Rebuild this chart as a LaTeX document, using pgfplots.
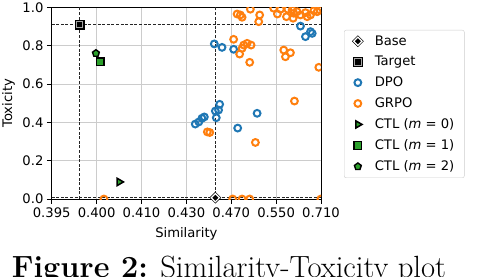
\documentclass[border=0pt]{standalone}
\usepackage{fontspec}
\setsansfont{DejaVu Sans}
\usepackage{pgfplots}
\pgfplotsset{compat=1.18}
\usepackage{pgfplotstable}
\definecolor{tabblue}{HTML}{1F77B4}
\definecolor{taborange}{HTML}{FF7F0E}
\definecolor{tabgreen}{HTML}{2CA02C}
\newcommand\chartfont{\sffamily\fontsize{13.2}{15.8}\selectfont}

\pgfplotsset{
  baselegend/.style={legend image code/.code={%
    \draw[mark repeat=2,mark phase=2, only marks, mark=square*, mark size=4.0bp, mark options={rotate=45,fill=black,draw=black,line width=0.2bp}] plot coordinates {(0bp,0bp)(14bp,0bp)(28bp,0bp)};
    \draw[mark repeat=2,mark phase=2,##1] plot coordinates {(0bp,0bp)(14bp,0bp)(28bp,0bp)};}},
  targetlegend/.style={legend image code/.code={%
    \draw[mark repeat=2,mark phase=2, only marks, mark=square*, mark size=4.6bp, mark options={fill=black,draw=black,line width=0.2bp}] plot coordinates {(0bp,0bp)(14bp,0bp)(28bp,0bp)};
    \draw[mark repeat=2,mark phase=2,##1] plot coordinates {(0bp,0bp)(14bp,0bp)(28bp,0bp)};}},
  plainlegend/.style={legend image code/.code={%
    \draw[mark repeat=2,mark phase=2,##1] plot coordinates {(0bp,0bp)(14bp,0bp)(28bp,0bp)};}},
}

\pgfplotstableread{
s t
0.4516 0.809
0.4594 0.791
0.4730 0.781
0.6230 0.902
0.6621 0.873
0.6693 0.864
0.6417 0.847
0.4359 0.391
0.4385 0.402
0.4409 0.421
0.4428 0.428
0.4526 0.459
0.4535 0.424
0.4569 0.494
0.4558 0.464
0.4784 0.370
0.5093 0.447
}\dpo

\pgfplotstableread{
s t
0.4776 0.965
0.4821 0.960
0.4846 0.948
0.4975 0.990
0.5141 0.960
0.5123 0.925
0.5441 0.995
0.5611 0.990
0.5815 0.990
0.6001 0.969
0.6230 0.960
0.6485 0.951
0.6762 0.982
0.6917 0.977
0.5777 0.951
0.5981 0.943
0.7041 0.986
0.5949 0.986
0.6114 0.977
0.6417 0.972
0.5532 0.965
0.6621 0.960
0.4730 0.833
0.4811 0.756
0.4870 0.803
0.4922 0.812
0.4987 0.803
0.4846 0.786
0.4964 0.713
0.5700 0.777
0.5896 0.763
0.5748 0.742
0.6993 0.687
0.6023 0.511
0.4453 0.350
0.4474 0.347
0.5062 0.295
0.4012 0.000
0.4718 0.000
0.4846 0.000
0.4964 0.000
0.7095 0.000
}\grpo

\pgfplotstableread{
s t
0.4526 0.007
}\base
\pgfplotstableread{
s t
0.3977 0.911
}\target
\pgfplotstableread{
s t
0.4042 0.089
}\ctlzero
\pgfplotstableread{
s t
0.4006 0.716
}\ctlone
\pgfplotstableread{
s t
0.3999 0.760
}\ctltwo

\begin{document}
\begin{tikzpicture}[x=1bp,y=1bp]
\path[use as bounding box] (0,0) rectangle (478,276);
\begin{axis}[
  at={(51.7bp,77bp)}, anchor=south west,
  scale only axis, width=269.3bp, height=191.7bp,
  xmode=log, log basis x=2,
  xmin=0.005, xmax=0.32, ymin=0, ymax=1,
  xtick={0.005,0.01,0.02,0.04,0.08,0.16,0.32},
  xticklabels={0.395,0.400,0.410,0.430,0.470,0.550,0.710},
  ytick={0,0.2,0.4,0.6,0.8,1},
  yticklabels={0.0,0.2,0.4,0.6,0.8,1.0},
  xminorticks=false, yminorticks=false,
  tick align=outside, xtick pos=bottom, ytick pos=left,
  major tick length=4.8bp,
  every tick/.style={black, line width=0.9bp},
  axis line style={line width=1.0bp},
  grid=major, major grid style={gray!40, line width=0.8bp},
  tick label style={font=\chartfont},
  /pgf/number format/assume math mode=true,
  label style={font=\chartfont},
  xlabel={Similarity}, ylabel={Toxicity},
  xlabel style={at={(axis description cs:0.5,-0.2014)}, anchor=base},
  ylabel style={at={(axis description cs:-0.1474,0.5)}, anchor=base},
  clip marker paths=true,
  legend style={at={(1.0854,0.8816)}, anchor=north west, draw=black!20,
    rounded corners=2bp, fill=white, font=\chartfont,
    inner xsep=8bp, inner ysep=3.5bp, row sep=5.6bp,
    /tikz/every odd column/.append style={column sep=9.3bp}},
  legend cell align=left,
  plainlegend,
]
% reference lines
\addplot[forget plot, black!85, line width=0.9bp, dash pattern=on 3bp off 1.6bp] table[row sep=\\, x expr=\thisrow{s}-0.39, y=t] {s t\\ 0.3977 0\\ 0.3977 1\\};
\addplot[forget plot, black!85, line width=0.9bp, dash pattern=on 3bp off 1.6bp] table[row sep=\\, x expr=\thisrow{s}-0.39, y=t] {s t\\ 0.395 0.911\\ 0.71 0.911\\};
\addplot[forget plot, black!85, line width=0.9bp, dash pattern=on 3bp off 1.6bp] table[row sep=\\, x expr=\thisrow{s}-0.39, y=t] {s t\\ 0.4526 0\\ 0.4526 1\\};
\addplot[forget plot, black!85, line width=0.9bp, dash pattern=on 3bp off 1.6bp] table[row sep=\\, x expr=\thisrow{s}-0.39, y=t] {s t\\ 0.395 0.007\\ 0.71 0.007\\};

% Base legend entry (marker drawn in overlay axis without clipping)
\addlegendimage{only marks, mark=square*, mark size=2.9bp, mark options={rotate=45, fill=black, draw=white, line width=1.2bp}, baselegend}
\addlegendentry{Base}

% Target
\addplot[forget plot, only marks, mark=square*, mark size=4.6bp, mark options={fill=black, draw=black, line width=0.2bp}] table[x expr=\thisrow{s}-0.39, y=t] {\target};
\addplot[only marks, mark=square*, mark size=3.3bp, mark options={fill=black, draw=black!35, line width=1.1bp}, targetlegend]
  table[x expr=\thisrow{s}-0.39, y=t] {\target};
\addlegendentry{Target}

\addplot[only marks, draw=tabblue, mark=o, mark size=3.4bp, mark options={line width=2.0bp, draw=tabblue}] table[x expr=\thisrow{s}-0.39, y=t] {\dpo};
\addlegendentry{DPO}
\addplot[only marks, draw=taborange, mark=o, mark size=3.4bp, mark options={line width=2.0bp, draw=taborange}] table[x expr=\thisrow{s}-0.39, y=t] {\grpo};
\addlegendentry{GRPO}

\addplot[only marks, mark=triangle*, mark size=4.2bp, mark options={rotate=-90, fill=tabgreen, draw=black, line width=1.5bp}] table[x expr=\thisrow{s}-0.39, y=t] {\ctlzero};
\addlegendentry{CTL (\textit{m} = 0)}
\addplot[only marks, mark=square*, mark size=3.8bp, mark options={fill=tabgreen, draw=black, line width=1.4bp}] table[x expr=\thisrow{s}-0.39, y=t] {\ctlone};
\addlegendentry{CTL (\textit{m} = 1)}
\addplot[only marks, mark=pentagon*, mark size=3.6bp, mark options={fill=tabgreen, draw=black, line width=1.4bp}] table[x expr=\thisrow{s}-0.39, y=t] {\ctltwo};
\addlegendentry{CTL (\textit{m} = 2)}
\end{axis}

\begin{axis}[
  at={(51.7bp,77bp)}, anchor=south west,
  scale only axis, width=269.3bp, height=191.7bp,
  xmode=log, log basis x=2,
  xmin=0.005, xmax=0.32, ymin=0, ymax=1,
  hide axis, clip=false,
]
\addplot[only marks, mark=square*, mark size=4.0bp, mark options={rotate=45, fill=black, draw=black, line width=0.2bp}] table[x expr=\thisrow{s}-0.39, y=t] {\base};
\addplot[only marks, mark=square*, mark size=2.9bp, mark options={rotate=45, fill=black, draw=white, line width=1.2bp}] table[x expr=\thisrow{s}-0.39, y=t] {\base};
\end{axis}

\node[anchor=base, inner sep=0pt, font=\fontsize{30.8}{36}\selectfont] at (229,-1.7) {\textbf{Figure 2:} Similarity-Toxicity plot};
\end{tikzpicture}
\end{document}
